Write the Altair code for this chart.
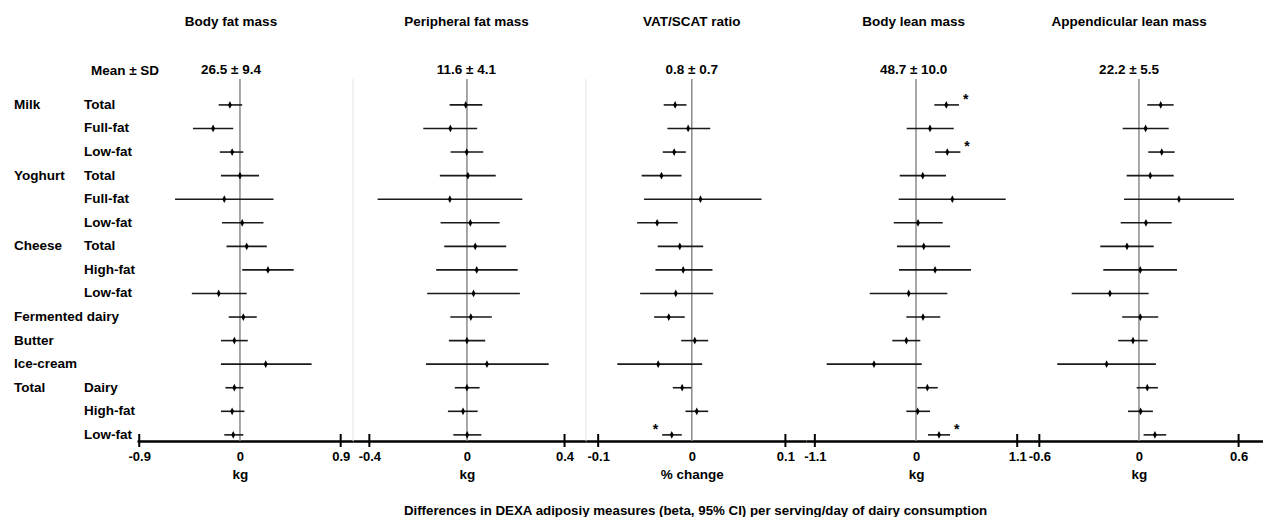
import altair as alt
import pandas as pd

FONT = "Liberation Sans"

groups = ["Milk", "", "", "Yoghurt", "", "", "Cheese", "", "", "Fermented dairy", "Butter", "Ice-cream", "Total", "", ""]
items = ["Total", "Full-fat", "Low-fat", "Total", "Full-fat", "Low-fat", "Total", "High-fat", "Low-fat", "", "", "", "Dairy", "High-fat", "Low-fat"]

titles = ["Body fat mass", "Peripheral fat mass", "VAT/SCAT ratio", "Body lean mass", "Appendicular lean mass"]
mean_sd = ["26.5 \u00b1 9.4", "11.6 \u00b1 4.1", "0.8 \u00b1 0.7", "48.7 \u00b1 10.0", "22.2 \u00b1 5.5"]
units = ["kg", "kg", "% change", "kg", "kg"]
tick_vals = [0.9, 0.4, 0.1, 1.1, 0.6]

est1 = [-0.09, -0.24, -0.07, 0.0, -0.14, 0.02, 0.06, 0.25, -0.19, 0.03, -0.05, 0.23, -0.05, -0.07, -0.06]
lo1 = [-0.19, -0.42, -0.18, -0.17, -0.58, -0.16, -0.12, 0.02, -0.43, -0.10, -0.17, -0.17, -0.13, -0.17, -0.14]
hi1 = [0.02, -0.06, 0.03, 0.17, 0.30, 0.21, 0.24, 0.48, 0.06, 0.15, 0.07, 0.64, 0.03, 0.04, 0.03]

est2 = [-0.005, -0.068, -0.001, 0.004, -0.070, 0.014, 0.034, 0.040, 0.027, 0.016, 0.0, 0.082, 0.0, -0.016, 0.001]
lo2 = [-0.071, -0.179, -0.067, -0.111, -0.366, -0.108, -0.093, -0.126, -0.163, -0.068, -0.074, -0.168, -0.050, -0.078, -0.056]
hi2 = [0.063, 0.042, 0.067, 0.118, 0.227, 0.134, 0.161, 0.208, 0.217, 0.102, 0.075, 0.335, 0.052, 0.044, 0.059]

est3 = [-0.0178, -0.0039, -0.0188, -0.0324, 0.0093, -0.037, -0.0128, -0.0092, -0.0171, -0.0246, 0.0032, -0.0359, -0.0103, 0.0053, -0.0214]
lo3 = [-0.030, -0.026, -0.031, -0.0535, -0.051, -0.0584, -0.0364, -0.0388, -0.0552, -0.0402, -0.0113, -0.0795, -0.0203, -0.0067, -0.0317]
hi3 = [-0.0057, 0.0197, -0.0064, -0.011, 0.0745, -0.015, 0.0122, 0.0221, 0.0229, -0.0075, 0.0175, 0.0111, -0.0003, 0.0175, -0.0107]

est4 = [0.329, 0.152, 0.340, 0.073, 0.395, 0.022, 0.084, 0.207, -0.080, 0.076, -0.105, -0.457, 0.123, 0.018, 0.25]
lo4 = [0.199, -0.101, 0.207, -0.177, -0.188, -0.242, -0.207, -0.185, -0.503, -0.105, -0.258, -0.971, 0.014, -0.105, 0.130]
hi4 = [0.467, 0.41, 0.482, 0.326, 0.975, 0.290, 0.370, 0.598, 0.340, 0.264, 0.047, 0.062, 0.236, 0.152, 0.370]

est5 = [0.131, 0.040, 0.137, 0.068, 0.241, 0.042, -0.072, 0.008, -0.175, 0.008, -0.036, -0.195, 0.050, 0.010, 0.096]
lo5 = [0.050, -0.098, 0.056, -0.074, -0.090, -0.110, -0.233, -0.215, -0.405, -0.101, -0.125, -0.492, -0.014, -0.066, 0.028]
hi5 = [0.209, 0.179, 0.215, 0.209, 0.572, 0.197, 0.089, 0.229, 0.058, 0.116, 0.052, 0.102, 0.114, 0.084, 0.164]

# significance markers: (panel, row, side)
stars = [(3, 0, "right"), (3, 2, "right"), (3, 14, "right"), (2, 14, "left")]

estimates = [est1, est2, est3, est4, est5]
lows = [lo1, lo2, lo3, lo4, lo5]
highs = [hi1, hi2, hi3, hi4, hi5]

# layout (styling)
domains = [[-0.92, 1.01], [-0.467, 0.488], [-0.113, 0.122], [-1.196, 1.326], [-0.608, 0.747]]
widths = [216, 233, 220, 232, 225]
H = 362
YDOM = [-1.1, 14.26]
DIAMOND = "M0,-1L0.5,0L0,1L-0.5,0Z"
FS = 13.5

yscale = alt.Scale(domain=YDOM, reverse=True, nice=False, zero=False)
label_expr = "datum.value == 0 ? '0' : (datum.value < 0 ? '-' : '') + format(abs(datum.value), '.1f')"


def make_panel(i):
    n = len(estimates[i])
    df = pd.DataFrame({"idx": list(range(n)), "est": estimates[i], "lo": lows[i], "hi": highs[i]})
    xs = alt.Scale(domain=domains[i], nice=False, zero=False)
    t = tick_vals[i]
    zoff = (0 - domains[i][0]) / (domains[i][1] - domains[i][0]) * widths[i]
    ax = alt.Axis(values=[-t, 0, t], title=units[i], ticks=False, tickSize=0, grid=False,
                  labelFlush=False, labelOverlap=False, labelExpr=label_expr, titleX=zoff)

    def X(f):
        return alt.X(f, scale=xs, axis=ax)

    Y = alt.Y("idx:Q", scale=yscale, axis=None)
    base = alt.Chart(df)
    zero = alt.Chart(pd.DataFrame({"z": [0.0]})).mark_rule(color="#8a8a8a", strokeWidth=1.5).encode(x=X("z:Q"))
    ci = base.mark_rule(color="#1a1a1a", strokeWidth=1.6).encode(x=X("lo:Q"), x2="hi:Q", y=Y)
    pts = base.mark_point(shape=DIAMOND, filled=True, size=60, color="black", opacity=1).encode(x=X("est:Q"), y=Y)
    tk = alt.Chart(pd.DataFrame({"t": [-t, t]})).mark_rule(color="black", strokeWidth=2).encode(
        x=X("t:Q"), y=alt.value(H - 7), y2=alt.value(H + 6))
    layers = [zero, ci, pts, tk]
    if i == 1:
        layers.insert(0, alt.Chart(pd.DataFrame({"a": [0]})).mark_rule(color="#e4e4e4", strokeWidth=1).encode(x=alt.value(0)))
        layers.insert(0, alt.Chart(pd.DataFrame({"a": [0]})).mark_rule(color="#e4e4e4", strokeWidth=1).encode(x=alt.value(widths[i])))
    srows = [(r, s) for (p, r, s) in stars if p == i]
    if srows:
        sdf = pd.DataFrame({"idx": [r for r, s in srows],
                            "xpos": [highs[i][r] if s == "right" else lows[i][r] for r, s in srows],
                            "side": [s for r, s in srows], "lab": ["*"] * len(srows)})
        right = sdf[sdf.side == "right"]
        left = sdf[sdf.side == "left"]
        if len(right):
            layers.append(alt.Chart(right).mark_text(align="left", baseline="middle", dx=4, dy=-5, fontSize=14,
                                                     font=FONT, fontWeight="bold").encode(x=X("xpos:Q"), y=Y, text="lab:N"))
        if len(left):
            layers.append(alt.Chart(left).mark_text(align="right", baseline="middle", dx=-4, dy=-5, fontSize=14,
                                                    font=FONT, fontWeight="bold").encode(x=X("xpos:Q"), y=Y, text="lab:N"))
    return alt.layer(*layers).properties(
        width=widths[i], height=H,
        title=alt.TitleParams([titles[i], mean_sd[i]], anchor="start", align="center", dx=zoff,
                              font=FONT, fontSize=FS, fontWeight="bold", lineHeight=48, offset=2, color="black"))


# label column
rows = []
for k in range(len(items)):
    if groups[k]:
        rows.append({"idx": k, "level": 0, "txt": groups[k]})
    if items[k]:
        rows.append({"idx": k, "level": 1, "txt": items[k]})
lab_df = pd.DataFrame(rows)
labels = alt.Chart(lab_df).mark_text(align="left", baseline="middle", font=FONT, fontSize=FS,
                                     fontWeight="bold", color="black").encode(
    x=alt.X("level:Q", scale=alt.Scale(domain=[0, 1], range=[6, 76]), axis=None),
    y=alt.Y("idx:Q", scale=yscale, axis=None),
    text="txt:N",
).properties(width=129, height=H,
             title=alt.TitleParams(["\u00a0", "Mean \u00b1 SD"], anchor="start", align="center", dx=117,
                                   font=FONT, fontSize=FS, fontWeight="bold", lineHeight=48, offset=2, color="black"))

panels = [make_panel(i) for i in range(5)]

chart = alt.hconcat(labels, *panels, spacing=0, bounds="flush").properties(
    title=alt.TitleParams("Differences in DEXA adiposiy measures (beta, 95% CI) per serving/day of dairy consumption",
                          orient="bottom", anchor="middle", font=FONT, fontSize=13.3, fontWeight="bold",
                          offset=23, dx=60, color="black"),
    padding={"left": 0, "right": 0, "top": 6, "bottom": 0},
).configure_view(stroke=None).configure_axis(
    domainColor="black", domainWidth=2.5, labelFont=FONT, labelFontSize=13, labelFontWeight="bold",
    labelColor="black", labelPadding=9, titleFont=FONT, titleFontSize=13.5, titleFontWeight="bold",
    titleColor="black", titlePadding=4,
)

chart.save("out.html", embed_options={"renderer": "svg", "actions": False})
